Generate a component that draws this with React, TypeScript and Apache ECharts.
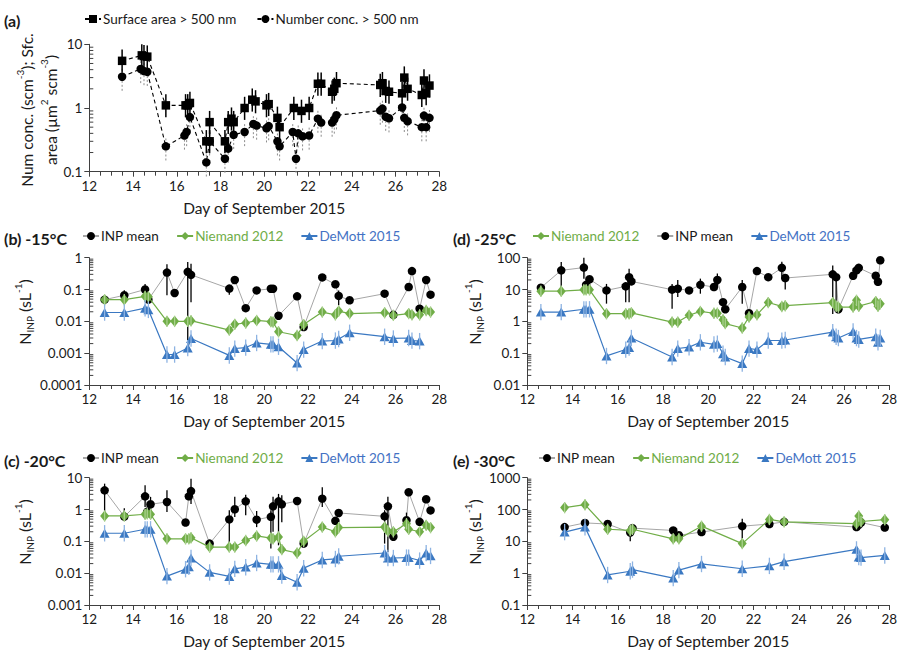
import React, { useEffect, useRef } from "react";
import * as echarts from "echarts";

// ---------- Panel (a): aerosol > 500 nm ----------
const surfaceDays = [13.5, 14.4, 14.5, 14.65, 15.5, 16.4, 16.5, 16.6, 17.35, 17.5, 17.5, 18.2, 18.35, 18.5, 18.6, 19.1, 19.45, 19.6, 20.1, 20.2, 20.6, 20.7, 21.35, 21.7, 22.05, 22.45, 22.6, 23.1, 23.2, 23.3, 25.3, 25.4, 25.55, 25.7, 26.3, 26.4, 26.55, 27.2, 27.3, 27.4, 27.55];
const surfaceArea = [5.5, 6.7, 6.5, 6.4, 1.1, 1.1, 1.1, 1.2, 0.3, 0.3, 0.6, 0.3, 0.6, 0.68, 0.6, 1.0, 1.35, 1.27, 1.1, 1.15, 0.7, 0.5, 1.0, 0.9, 1.0, 2.4, 2.4, 1.8, 2.0, 2.45, 2.3, 2.45, 1.85, 1.8, 1.7, 3.0, 2.0, 1.6, 2.7, 1.7, 2.25];
const numberDays = [13.5, 14.35, 14.5, 14.65, 15.5, 16.35, 16.45, 16.6, 17.35, 17.5, 18.2, 18.35, 18.6, 19.1, 19.5, 19.65, 20.1, 20.2, 20.6, 20.7, 21.3, 21.45, 21.55, 21.75, 22.05, 22.45, 22.6, 23.1, 23.2, 23.3, 25.3, 25.4, 25.55, 25.7, 26.3, 26.4, 26.55, 27.2, 27.3, 27.4, 27.55];
const numberConc = [3.1, 4.1, 3.8, 3.7, 0.25, 0.37, 0.42, 0.72, 0.14, 0.3, 0.16, 0.23, 0.38, 0.42, 0.56, 0.53, 0.48, 0.52, 0.3, 0.25, 0.42, 0.16, 0.4, 0.36, 0.37, 0.68, 0.59, 0.59, 0.66, 0.77, 0.91, 0.98, 0.73, 0.69, 1.02, 0.7, 0.62, 0.5, 0.76, 0.5, 0.7];
// relative uncertainty of the size-distribution products
const surfaceErr = [0.65, 1.5];
const numberErr = [0.6, 1.35];

// ---------- Panel (b): -15 °C ----------
const daysB = [12.7, 13.6, 14.55, 14.7, 15.55, 15.9, 16.5, 16.65, 18.4, 18.65, 19.15, 19.65, 20.3, 20.4, 20.65, 21.5, 21.8, 22.65, 23.25, 23.4, 23.9, 25.5, 25.9, 26.6, 26.75, 27.1, 27.4, 27.6];
const inpB = [0.048, 0.066, 0.1, 0.048, 0.34, 0.078, 0.36, 0.29, 0.107, 0.2, 0.026, 0.094, 0.106, 0.106, 0.015, 0.061, 0.0066, 0.24, 0.146, 0.063, 0.046, 0.074, 0.016, 0.12, 0.38, 0.025, 0.2, 0.069];
const niemandB = [0.048, 0.048, 0.061, 0.059, 0.01, 0.01, 0.01, 0.0105, 0.0053, 0.0081, 0.0089, 0.0107, 0.0098, 0.0095, 0.0047, 0.0036, 0.0079, 0.0195, 0.016, 0.021, 0.0175, 0.0187, 0.0155, 0.0175, 0.016, 0.016, 0.022, 0.0196];
const demottB = [0.019, 0.019, 0.026, 0.023, 0.00091, 0.00091, 0.00145, 0.0029, 0.00085, 0.0014, 0.0015, 0.0021, 0.0019, 0.0019, 0.0016, 0.00049, 0.0013, 0.0024, 0.0025, 0.0028, 0.0044, 0.0033, 0.0029, 0.003, 0.0025, 0.0024];
const inpErrB = [[13.6, 0.046, 0.095], [14.55, 0.066, 0.15], [15.55, 0.066, 0.62], [16.5, 0.0011, 0.73], [16.65, 0.04, 0.65], [18.4, 0.069, 0.13], [23.4, 0.032, 0.094]];

// ---------- Panel (c): -20 °C ----------
const daysC = [12.7, 13.6, 14.55, 14.65, 14.8, 15.55, 16.4, 16.55, 16.65, 17.5, 18.4, 18.65, 19.15, 19.65, 20.3, 20.4, 20.65, 20.8, 21.5, 21.8, 22.65, 23.25, 23.4, 25.5, 25.65, 25.9, 26.5, 26.6, 27.1, 27.4, 27.6];
const inpC = [4.0, 0.6, 2.6, 0.85, 1.46, 1.73, 0.39, 2.6, 3.8, 0.085, 0.49, 1.02, 1.81, 0.48, 0.59, 1.26, 1.81, 1.46, 1.86, 0.085, 2.2, 0.44, 0.78, 0.61, 1.26, 0.14, 0.46, 3.5, 0.41, 2.1, 0.94];
const niemandC = [0.63, 0.63, 0.71, 0.74, 0.71, 0.12, 0.12, 0.12, 0.13, 0.066, 0.066, 0.066, 0.107, 0.148, 0.127, 0.12, 0.138, 0.055, 0.043, 0.1, 0.28, 0.2, 0.27, 0.28, 0.21, 0.2, 0.36, 0.24, 0.2, 0.32, 0.27];
const demottC = [0.18, 0.18, 0.24, 0.24, 0.24, 0.0081, 0.0134, 0.016, 0.03, 0.0106, 0.0079, 0.0137, 0.0155, 0.021, 0.019, 0.019, 0.019, 0.0085, 0.0052, 0.0144, 0.026, 0.028, 0.034, 0.043, 0.03, 0.03, 0.031, 0.031, 0.025, 0.043, 0.035];
const inpErrC = [[12.7, 0.65, 6.5], [13.6, 0.46, 1.1], [14.55, 1.2, 5.8], [14.8, 0.66, 2.5], [15.55, 0.84, 4.0], [16.65, 1.5, 9.3], [18.4, 0.06, 0.95], [18.65, 0.58, 2.5], [19.15, 0.66, 2.9], [19.65, 0.28, 0.9], [20.3, 0.06, 0.95], [20.4, 0.2, 2.5], [20.65, 0.075, 3.1], [20.8, 0.4, 2.8], [22.65, 1.2, 5.0], [25.5, 0.085, 0.95], [25.65, 0.046, 2.5], [26.5, 0.22, 0.8]];

// ---------- Panel (d): -25 °C ----------
const daysD = [12.6, 13.5, 14.5, 14.6, 14.75, 15.5, 16.35, 16.5, 16.6, 18.4, 18.65, 19.15, 19.65, 20.25, 20.4, 20.65, 20.75, 21.5, 21.8, 22.15, 22.65, 23.25, 23.4, 25.5, 25.65, 25.75, 26.4, 26.55, 26.65, 27.4, 27.5, 27.6];
const inpD = [11.4, 40, 49, 14, 21, 9.4, 12.6, 24.5, 18, 9.9, 10.6, 9.4, 14, 12, 20, 4.0, 2.4, 12, 1.8, 38, 24.5, 48, 23, 30, 24.5, 2.4, 27, 40, 48, 27, 17.5, 83];
const niemandD = [8.9, 8.9, 9.8, 9.8, 9.8, 1.74, 1.74, 1.74, 1.85, 0.95, 0.95, 1.55, 2.05, 1.8, 1.8, 1.12, 0.85, 0.62, 1.38, 1.6, 3.9, 2.95, 3.1, 3.9, 3.0, 2.8, 2.8, 4.6, 3.0, 4.2, 3.0, 3.6];
const demottD = [1.96, 1.96, 2.4, 2.4, 2.4, 0.082, 0.13, 0.15, 0.3, 0.076, 0.14, 0.155, 0.22, 0.19, 0.2, 0.096, 0.076, 0.047, 0.14, 0.13, 0.25, 0.25, 0.26, 0.46, 0.33, 0.3, 0.48, 0.3, 0.27, 0.33, 0.22, 0.3];
const inpErrD = [[13.5, 9.4, 73], [14.5, 22, 100], [15.5, 3.6, 15], [16.35, 4, 15], [16.5, 4, 45], [18.4, 2.5, 15], [18.65, 5.8, 20], [19.65, 7.4, 22], [20.4, 12, 32], [21.5, 3.6, 20], [23.25, 25, 75], [23.4, 10, 30], [25.5, 1.7, 57], [25.65, 2, 30], [26.55, 28, 60]];

// ---------- Panel (e): -30 °C ----------
const daysE = [13.65, 14.55, 15.55, 16.55, 16.65, 18.45, 18.7, 19.7, 21.5, 22.7, 23.35, 26.55, 26.65, 26.75, 27.8];
const inpE = [28, 38, 35, 19, 26, 22, 15.5, 19.6, 30, 35, 41, 28, 33, 39, 27];
const niemandE = [115, 142, 24, 22, 24, 12, 12, 30, 8.5, 49, 41, 36, 63, 42, 48];
const demottE = [19.6, 28, 0.88, 1.15, 1.3, 0.7, 1.25, 1.95, 1.38, 1.7, 2.3, 5.6, 3.2, 3.1, 3.6];
const inpErrE = [[16.55, 10, 25], [21.5, 12, 51]];

// relative uncertainty of the two parameterizations
const niemandErr = [0.66, 1.5];
const demottErr = [0.55, 1.8];

const FONT = "Lato, 'Liberation Sans', sans-serif";
const BLACK = "#000000";
const GREY_LINE = "#a6a6a6";
const GREEN = "#70ad47";
const GREEN_BAR = "#a9d18e";
const BLUE = "#3a78c2";
const BLUE_TEXT = "#4472c4";
const BLUE_BAR = "#8db3e2";
const AXIS = "#404040";
const TEXT = "#1a1a1a";

const grids = [
  { left: 89.3, top: 44.3, width: 350, height: 127.4 },
  { left: 89.3, top: 257.7, width: 350, height: 127.3 },
  { left: 89.3, top: 477.7, width: 350, height: 127.3 },
  { left: 527.3, top: 257.7, width: 362, height: 127.3 },
  { left: 527.3, top: 477.7, width: 362, height: 127.3 },
];
const yRanges = [
  [0.1, 10],
  [0.0001, 1],
  [0.001, 10],
  [0.01, 100],
  [0.1, 1000],
];

const zip = (xs: number[], ys: number[]) => ys.map((y, i) => [xs[i], y]);
const relBars = (xs: number[], ys: number[], f: number[]) =>
  ys.map((y, i) => [xs[i], y * f[0], y * f[1]]);

function minorTickValues(range: number[]) {
  const out: number[][] = [];
  for (let dec = range[0]; dec < range[1] * 0.999; dec *= 10) {
    for (let k = 2; k <= 9; k++) out.push([12, dec * k]);
  }
  return out;
}

function barSeries(idx: number, data: number[][], color: string, width: number, dash?: number[], z = 3) {
  return {
    type: "custom",
    xAxisIndex: idx,
    yAxisIndex: idx,
    clip: false,
    z,
    silent: true,
    data,
    renderItem: (params: any, api: any) => {
      const p1 = api.coord([api.value(0), api.value(1)]);
      const p2 = api.coord([api.value(0), api.value(2)]);
      return {
        type: "line",
        shape: { x1: p1[0], y1: p1[1], x2: p2[0], y2: p2[1] },
        style: { stroke: color, lineWidth: width, lineDash: dash || null },
      };
    },
  };
}

function minorTickSeries(idx: number) {
  return {
    type: "custom",
    xAxisIndex: idx,
    yAxisIndex: idx,
    clip: false,
    silent: true,
    z: 1,
    data: minorTickValues(yRanges[idx]),
    renderItem: (params: any, api: any) => {
      const p = api.coord([api.value(0), api.value(1)]);
      return {
        type: "line",
        shape: { x1: p[0], y1: p[1], x2: p[0] + 4, y2: p[1] },
        style: { stroke: AXIS, lineWidth: 1 },
      };
    },
  };
}

function inpPanel(idx: number, days: number[], inp: number[], nie: number[], dem: number[], inpErr: number[][]) {
  return [
    {
      name: "INP mean",
      type: "line",
      xAxisIndex: idx,
      yAxisIndex: idx,
      data: zip(days, inp),
      symbol: "circle",
      symbolSize: 8.5,
      itemStyle: { color: BLACK },
      lineStyle: { color: GREY_LINE, width: 1 },
      z: 4,
    },
    barSeries(idx, inpErr, BLACK, 1.3, undefined, 5),
    {
      name: "Niemand 2012",
      type: "line",
      xAxisIndex: idx,
      yAxisIndex: idx,
      data: zip(days, nie),
      symbol: "diamond",
      symbolSize: [9, 11],
      itemStyle: { color: GREEN },
      lineStyle: { color: GREEN, width: 1.2 },
      z: 6,
    },
    barSeries(idx, relBars(days, nie, niemandErr), GREEN_BAR, 1.3, undefined, 7),
    {
      name: "DeMott 2015",
      type: "line",
      xAxisIndex: idx,
      yAxisIndex: idx,
      data: zip(days, dem),
      symbol: "triangle",
      symbolSize: [10, 9],
      itemStyle: { color: BLUE },
      lineStyle: { color: BLUE, width: 1.2 },
      z: 8,
    },
    barSeries(idx, relBars(days, dem, demottErr), BLUE_BAR, 1.3, undefined, 9),
  ];
}

function fmtLog(v: number) {
  return String(Number(v.toPrecision(3)));
}

const nameInp = {
  n: { fontSize: 16, fontFamily: FONT, fill: TEXT, lineHeight: 22, verticalAlign: "middle" },
  s: { fontSize: 10, fontFamily: FONT, fill: TEXT, verticalAlign: "bottom", lineHeight: 10 },
  p: { fontSize: 10, fontFamily: FONT, fill: TEXT, verticalAlign: "top", lineHeight: 10 },
};

function yTitle(x: number, y: number) {
  return {
    type: "text",
    x,
    y,
    rotation: Math.PI / 2,
    style: {
      text: "{n|N}{s|INP}{n| (sL}{p|-1}{n|)}",
      align: "center",
      verticalAlign: "middle",
      rich: nameInp,
    },
  };
}

function panelLabel(x: number, y: number, text: string) {
  return {
    type: "text",
    x,
    y,
    style: { text, fontFamily: FONT, fontSize: 16, fontWeight: "bold", fill: TEXT, verticalAlign: "middle" },
  };
}

function legend(left: number, top: number, names: string[], gap = 17) {
  const colorOf: Record<string, string> = {
    "Niemand 2012": GREEN,
    "DeMott 2015": BLUE_TEXT,
  };
  return {
    left,
    top,
    padding: 0,
    orient: "horizontal",
    itemWidth: 16,
    itemHeight: 10,
    itemGap: gap,
    selectedMode: false,
    textStyle: { fontFamily: FONT, fontSize: 13.5, color: TEXT, padding: [0, 0, 0, -3] },
    data: names.map((n) => ({ name: n, textStyle: { color: colorOf[n] || TEXT } })),
  };
}

function buildOption() {
  const xAxis = grids.map((g, i) => ({
    type: "value",
    gridIndex: i,
    min: 12,
    max: 28,
    interval: 2,
    axisLine: { show: true, onZero: false, lineStyle: { color: AXIS, width: 1 } },
    axisTick: { show: true, inside: false, length: 5, lineStyle: { color: AXIS } },
    minorTick: { show: true, splitNumber: 4, length: 4, lineStyle: { color: AXIS } },
    splitLine: { show: false },
    axisLabel: { fontFamily: FONT, fontSize: 13.5, color: TEXT, margin: 7 },
    name: "Day of September 2015",
    nameLocation: "middle",
    nameGap: 28,
    nameTextStyle: { fontFamily: FONT, fontSize: 15.5, color: TEXT },
  }));
  const yAxis = grids.map((g, i) => ({
    type: "log",
    logBase: 10,
    gridIndex: i,
    min: yRanges[i][0],
    max: yRanges[i][1],
    axisLine: { show: true, onZero: false, lineStyle: { color: AXIS, width: 1 } },
    axisTick: { show: true, inside: false, length: 5, lineStyle: { color: AXIS } },
    splitLine: { show: false },
    axisLabel: { fontFamily: FONT, fontSize: 13.5, color: TEXT, margin: 7, formatter: fmtLog },
  }));

  const series: any[] = [
    {
      name: "Surface area > 500 nm",
      type: "line",
      xAxisIndex: 0,
      yAxisIndex: 0,
      data: zip(surfaceDays, surfaceArea),
      symbol: "rect",
      symbolSize: 8.5,
      itemStyle: { color: BLACK },
      lineStyle: { color: BLACK, width: 1.1, type: [4, 3] },
      z: 6,
    },
    barSeries(0, relBars(surfaceDays, surfaceArea, surfaceErr), BLACK, 1.5, undefined, 7),
    {
      name: "Number conc. > 500 nm",
      type: "line",
      xAxisIndex: 0,
      yAxisIndex: 0,
      data: zip(numberDays, numberConc),
      symbol: "circle",
      symbolSize: 8.5,
      itemStyle: { color: BLACK },
      lineStyle: { color: BLACK, width: 1.1, type: [4, 3] },
      z: 4,
    },
    barSeries(0, relBars(numberDays, numberConc, numberErr), "#8c8c8c", 1, [2, 2], 3),
    ...inpPanel(1, daysB, inpB, niemandB, demottB, inpErrB),
    ...inpPanel(2, daysC, inpC, niemandC, demottC, inpErrC),
    ...inpPanel(3, daysD, inpD, niemandD, demottD, inpErrD),
    ...inpPanel(4, daysE, inpE, niemandE, demottE, inpErrE),
    ...grids.map((g, i) => minorTickSeries(i)),
  ];

  const graphic = [
    panelLabel(4, 20, "(a)"),
    panelLabel(4, 238, "(b) -15°C"),
    panelLabel(4, 460, "(c) -20°C"),
    panelLabel(453, 238, "(d) -25°C"),
    panelLabel(453, 460, "(e) -30°C"),
    {
      type: "text",
      x: 39,
      y: 110,
      rotation: Math.PI / 2,
      style: {
        text: "{n|Num conc. (scm}{p|-3}{n|); Sfc.}\n{n|area (µm}{p|2}{n| scm}{p|-3}{n|)}",
        align: "center",
        verticalAlign: "middle",
        rich: {
          n: { fontSize: 15.5, fontFamily: FONT, fill: TEXT, lineHeight: 24, verticalAlign: "middle" },
          p: { fontSize: 10, fontFamily: FONT, fill: TEXT, verticalAlign: "top", lineHeight: 10 },
        },
      },
    },
    yTitle(24, 312),
    yTitle(24, 532),
    yTitle(474, 312),
    yTitle(474, 532),
  ];

  return {
    animation: false,
    backgroundColor: "#ffffff",
    textStyle: { fontFamily: FONT },
    grid: grids.map((g) => ({ ...g, containLabel: false })),
    xAxis,
    yAxis,
    legend: [
      legend(84, 12, ["Surface area > 500 nm", "Number conc. > 500 nm"], 20),
      legend(82, 229, ["INP mean", "Niemand 2012", "DeMott 2015"]),
      legend(82, 451, ["INP mean", "Niemand 2012", "DeMott 2015"]),
      legend(532, 229, ["Niemand 2012", "INP mean", "DeMott 2015"]),
      legend(538, 451, ["INP mean", "Niemand 2012", "DeMott 2015"]),
    ],
    graphic,
    series,
  };
}

export default function App() {
  const ref = useRef<HTMLDivElement>(null);
  useEffect(() => {
    if (!ref.current) return;
    const chart = echarts.init(ref.current, undefined, { renderer: "svg" });
    chart.setOption(buildOption() as any);
    return () => chart.dispose();
  }, []);
  return (
    <div
      ref={ref}
      style={{ position: "fixed", left: 0, top: 0, width: 901, height: 654, background: "#fff" }}
    />
  );
}
